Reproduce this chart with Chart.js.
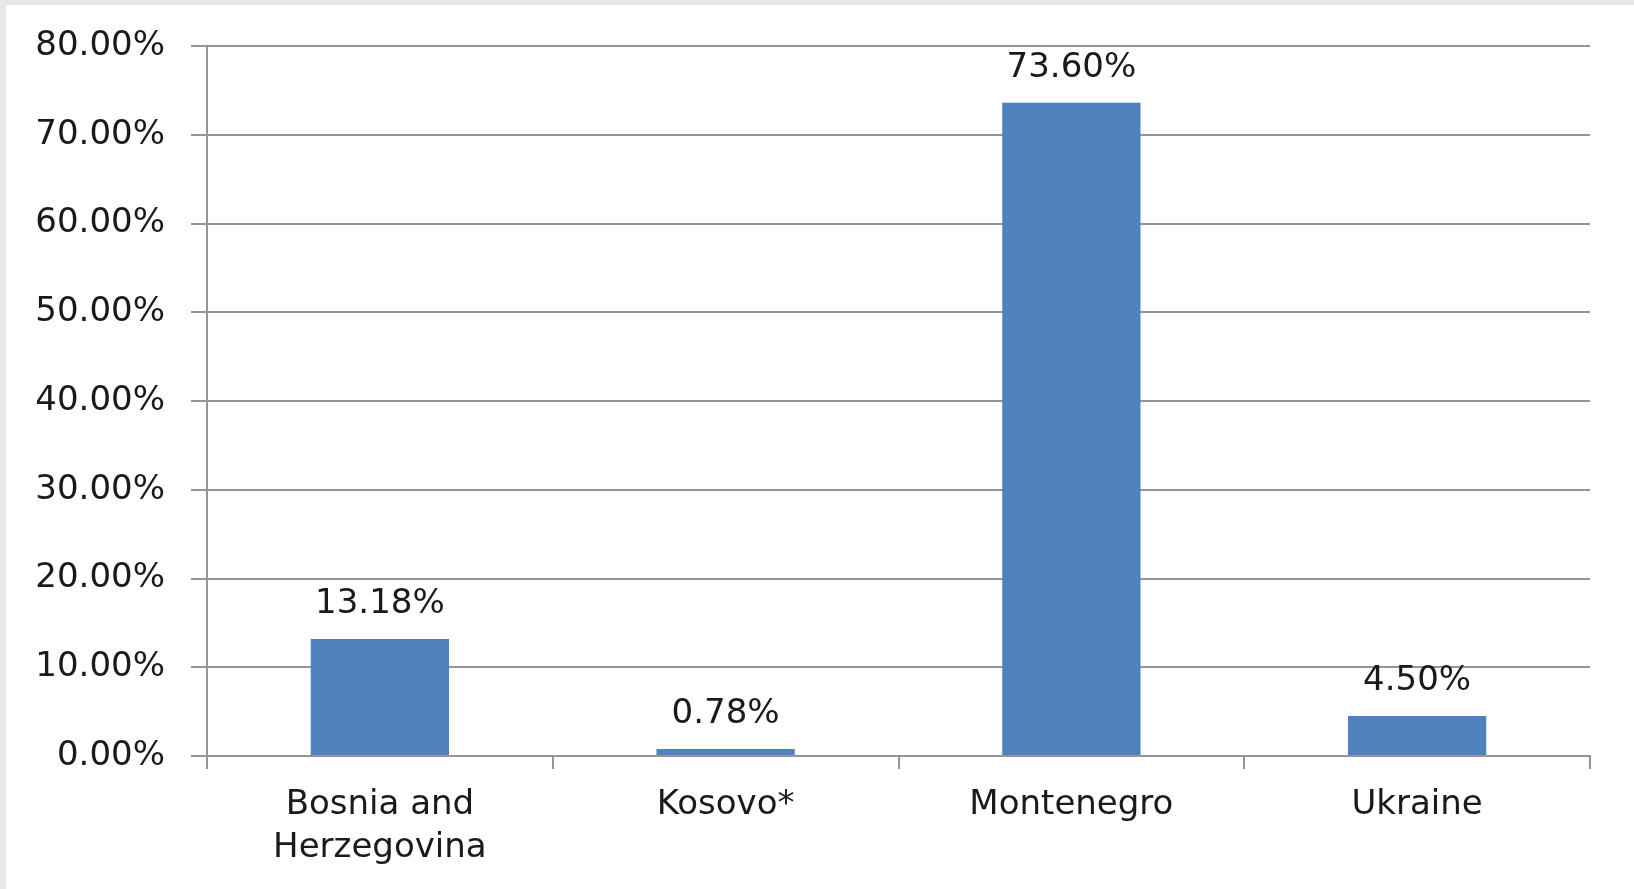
<!DOCTYPE html>
<html>
<head>
<meta charset="utf-8">
<title>Share by country</title>
<script src="https://cdn.jsdelivr.net/npm/chart.js@4.4.1/dist/chart.umd.min.js"></script>
<style>
    html, body { margin: 0; padding: 0; background: #e8e8e8; overflow: hidden; }
    #wrap { position: absolute; left: 6px; top: 5px; width: 1628px; height: 884px; background: #ffffff; }
</style>
</head>
<body>
<div id="wrap"><canvas id="barChart"></canvas></div>
<script>
var categories = [['Bosnia and', 'Herzegovina'], 'Kosovo*', 'Montenegro', 'Ukraine'];
var shares = [13.18, 0.78, 73.60, 4.50];
var yTicks = [0, 10, 20, 30, 40, 50, 60, 70, 80];

var gridColor = '#959595';
var textColor = '#1a1a1a';
var fontFamily = '"DejaVu Sans", Verdana, sans-serif';

// draws the percentage above each bar
var valueLabels = {
    id: 'valueLabels',
    afterDatasetsDraw: function (chart) {
        var ctx = chart.ctx;
        var meta = chart.getDatasetMeta(0);
        ctx.save();
        ctx.font = '34px ' + fontFamily;
        ctx.fillStyle = textColor;
        ctx.textAlign = 'center';
        ctx.textBaseline = 'alphabetic';
        meta.data.forEach(function (bar, i) {
            ctx.fillText(shares[i].toFixed(2) + '%', bar.x, bar.y - 26);
        });
        ctx.restore();
    }
};

var ctx = document.getElementById('barChart');
var shareChart = new Chart(ctx, {
    type: 'bar',
    data: {
        labels: categories,
        datasets: [{
            data: shares,
            backgroundColor: '#4f81bd',
            borderWidth: 0,
            barPercentage: 0.4,
            categoryPercentage: 1.0
        }]
    },
    options: {
        responsive: true,
        maintainAspectRatio: false,
        animation: false,
        layout: {
            padding: { left: 0, top: 41, right: 44, bottom: 0 }
        },
        plugins: {
            legend: { display: false },
            tooltip: { enabled: false }
        },
        scales: {
            x: {
                offset: true,
                afterFit: function (scale) { scale.height = 133; },
                grid: {
                    offset: true,
                    drawOnChartArea: false,
                    drawTicks: true,
                    tickLength: 13,
                    color: gridColor,
                    lineWidth: 2
                },
                border: { color: gridColor, width: 2 },
                ticks: {
                    color: textColor,
                    padding: 15,
                    maxRotation: 0,
                    font: { family: fontFamily, size: 34, lineHeight: 1.26 }
                }
            },
            y: {
                min: 0,
                max: 80,
                afterFit: function (scale) {
                    scale.width = 201;
                    // the tick padding would otherwise push the plot top down
                    scale.paddingTop = 0;
                    scale.paddingBottom = 0;
                },
                afterBuildTicks: function (scale) {
                    scale.ticks = yTicks.map(function (v) { return { value: v }; });
                },
                grid: {
                    tickLength: 16,
                    color: gridColor,
                    lineWidth: 2
                },
                border: { color: gridColor, width: 2 },
                ticks: {
                    color: textColor,
                    padding: 26,
                    font: { family: fontFamily, size: 34 },
                    callback: function (value) { return value.toFixed(2) + '%'; }
                }
            }
        }
    },
    plugins: [valueLabels]
});
</script>
</body>
</html>
